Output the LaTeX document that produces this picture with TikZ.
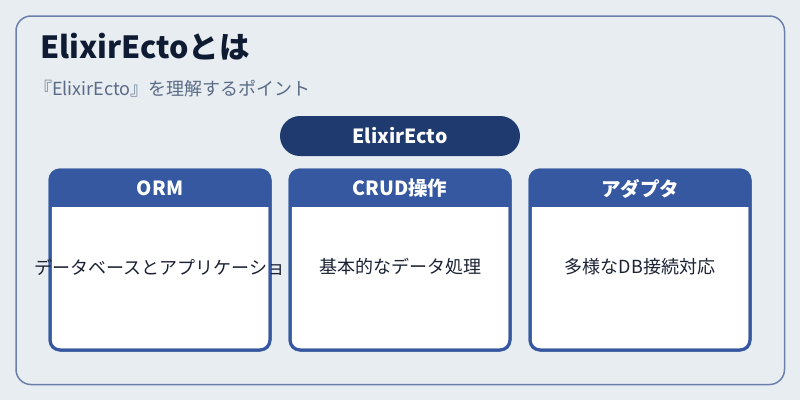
\documentclass[tikz,border=0pt]{standalone}
\usepackage{fontspec}
\usetikzlibrary{calc}
\setmainfont{Noto Sans CJK JP}
\definecolor{bgc}{HTML}{E8EDF2}
\definecolor{framec}{HTML}{6A80AA}
\definecolor{titlec}{HTML}{0F1B33}
\definecolor{subc}{HTML}{5A6B85}
\definecolor{pillc}{HTML}{1F3A6E}
\definecolor{cardc}{HTML}{3558A0}
\definecolor{textc}{HTML}{1A2233}
\begin{document}
\begin{tikzpicture}[x=1pt,y=-1pt,
  frame/.style={draw=framec,line width=1.5pt,fill=bgc,rounded corners=15pt},
  pill/.style={fill=pillc,rounded corners=20pt},
  cardbox/.style={draw=cardc,line width=3pt,fill=white,rounded corners=10pt},
  cardhead/.style={fill=cardc},
  headtxt/.style={text=white,font=\bfseries\fontsize{19.5}{22}\selectfont},
  bodytxt/.style={text=textc,font=\fontsize{18}{20}\selectfont}]
\fill[bgc] (0,0) rectangle (800,400);
\useasboundingbox (0,0) rectangle (800,400);
\draw[frame] (16,16) rectangle (784.5,384.5);
\node[anchor=base west,text=titlec,font=\bfseries\fontsize{30.5}{34}\selectfont,inner sep=0] (title) at (40,58) {ElixirEctoとは};
\node[anchor=base west,text=subc,font=\fontsize{18}{20}\selectfont,inner sep=0] (sub) at (34,95) {『ElixirEcto』を理解するポイント};
\fill[pill] (280,116) rectangle (520,156);
\node[text=white,font=\bfseries\fontsize{19.5}{22}\selectfont] (core) at (400,136) {ElixirEcto};
\foreach \x/\h/\b/\n in {50/ORM/データベースとアプリケーショ/a, 290/CRUD操作/基本的なデータ処理/b, 530/アダプタ/多様なDB接続対応/c}{
  \draw[cardbox] (\x,170) rectangle ++(220,180);
  \begin{scope}
    \clip[rounded corners=10pt] (\x,170) rectangle ++(220,180);
    \fill[cardhead] (\x,170) rectangle ++(220,37);
  \end{scope}
  \draw[cardc,line width=3pt,rounded corners=10pt] (\x,170) rectangle ++(220,180);
  \node[headtxt] (h\n) at ($(\x,188.5)+(110,0)$) {\h};
  \node[bodytxt] (b\n) at ($(\x,267)+(110,0)$) {\b};
}
\end{tikzpicture}
\end{document}
